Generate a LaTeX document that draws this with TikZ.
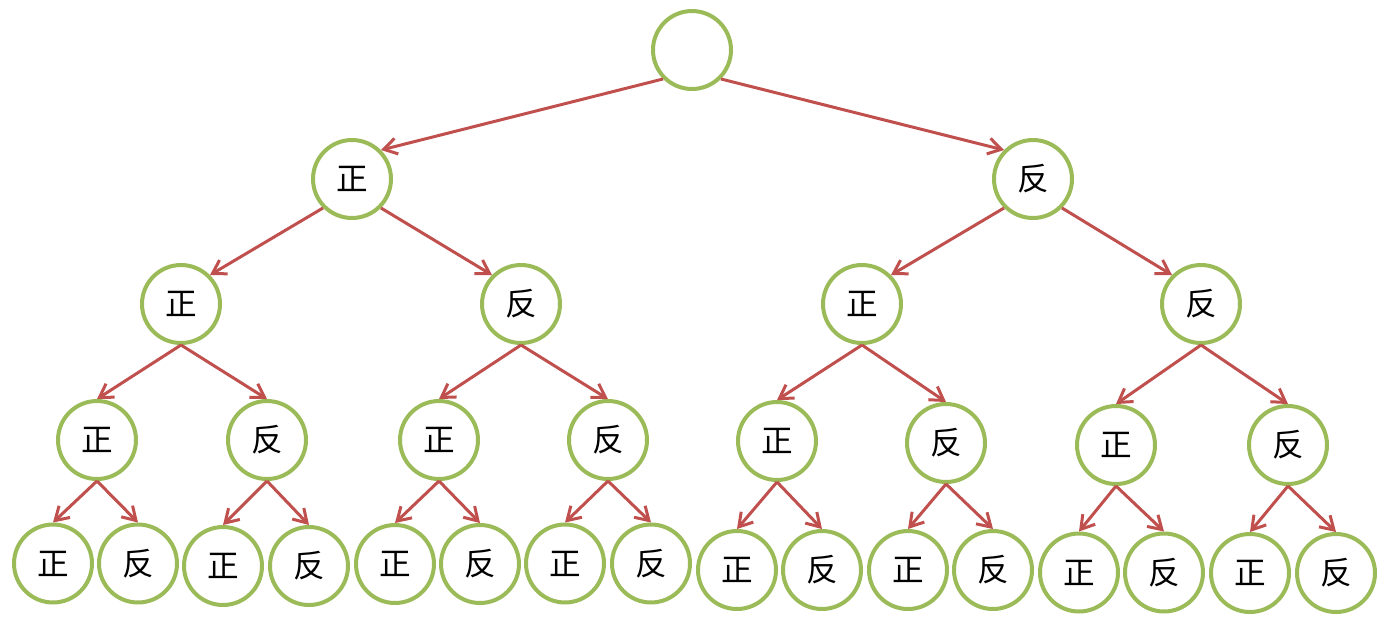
\documentclass[tikz,border=0pt]{standalone}
\usepackage{fontspec}
\newfontfamily\cjk{Noto Sans CJK SC}
\usetikzlibrary{arrows.meta}
\definecolor{nodegreen}{HTML}{9BBB59}
\definecolor{edgered}{HTML}{C0504D}
\tikzset{
  coin/.style={circle, draw=nodegreen, line width=0.08cm, minimum size=1.56cm, inner sep=0pt, font=\cjk\fontsize{18pt}{18pt}\selectfont},
  edge/.style={draw=edgered, line width=0.06cm, -{Straight Barb[length=0.26cm,width=0.32cm]}}
}
\begin{document}
\begin{tikzpicture}[x=0.02cm,y=-0.02cm]
\useasboundingbox (0,0) rectangle (1389,627);
% level 0
\node[coin] (r) at (692,50) {};
% level 1
\node[coin] (a) at (352,179) {正};
\node[coin] (b) at (1033,179) {反};
% level 2
\node[coin] (aa) at (181,304) {正};
\node[coin] (ab) at (521,304) {反};
\node[coin] (ba) at (862,304) {正};
\node[coin] (bb) at (1201,304) {反};
% level 3
\node[coin] (aaa) at (97,440) {正};
\node[coin] (aab) at (267,440) {反};
\node[coin] (aba) at (439,440) {正};
\node[coin] (abb) at (608,440) {反};
\node[coin] (baa) at (777,441) {正};
\node[coin] (bab) at (946,443) {反};
\node[coin] (bba) at (1116,445) {正};
\node[coin] (bbb) at (1288,445) {反};
% level 4
\node[coin] (aaaa) at (53,563.5) {正};
\node[coin] (aaab) at (138,563.5) {反};
\node[coin] (aaba) at (223,566) {正};
\node[coin] (aabb) at (309,566) {反};
\node[coin] (abaa) at (395,564) {正};
\node[coin] (abab) at (480,564) {反};
\node[coin] (abba) at (565,563.5) {正};
\node[coin] (abbb) at (651,563.5) {反};
\node[coin] (baaa) at (737,570) {正};
\node[coin] (baab) at (822,570) {反};
\node[coin] (baba) at (908,570) {正};
\node[coin] (babb) at (993,570) {反};
\node[coin] (bbaa) at (1079,572.5) {正};
\node[coin] (bbab) at (1164,572.5) {反};
\node[coin] (bbba) at (1250,573) {正};
\node[coin] (bbbb) at (1336,573) {反};
% edges level 0-1
\draw[edge] (r.south west) -- (a.north east);
\draw[edge] (r.south east) -- (b.north west);
% edges level 1-2
\draw[edge] (a.south west) -- (aa.north east);
\draw[edge] (a.south east) -- (ab.north west);
\draw[edge] (b.south west) -- (ba.north east);
\draw[edge] (b.south east) -- (bb.north west);
% edges level 2-3
\foreach \p in {aa,ab,ba,bb}{
  \draw[edge] (\p.south) -- (\p a.north);
  \draw[edge] (\p.south) -- (\p b.north);
}
% edges level 3-4
\foreach \p in {aaa,aab,aba,abb,baa,bab,bba,bbb}{
  \draw[edge] (\p.south) -- (\p a.north);
  \draw[edge] (\p.south) -- (\p b.north);
}
\end{tikzpicture}
\end{document}
